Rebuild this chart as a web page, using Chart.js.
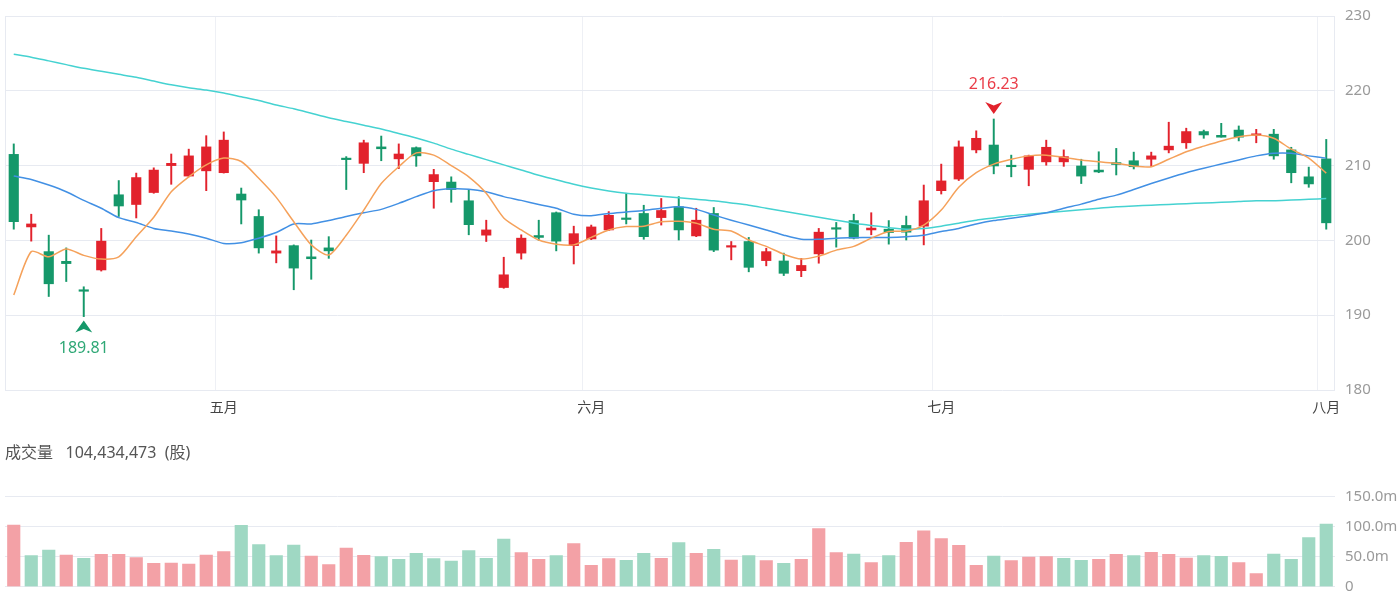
<!DOCTYPE html>
<html>
<head>
<meta charset="utf-8">
<script src="https://cdn.jsdelivr.net/npm/chart.js@4.4.1/dist/chart.umd.min.js"></script>
<style>
html,body{margin:0;padding:0;background:#fff;}
#wrap{position:relative;width:1400px;height:600px;overflow:hidden;background:#fff;}
#c1{position:absolute;left:0;top:0;}
#c2{position:absolute;left:0;top:430px;}
</style>
</head>
<body>
<div id="wrap">
<canvas id="c1" width="1400" height="430"></canvas>
<canvas id="c2" width="1400" height="170"></canvas>
</div>
<script>
// ---- data ----
const monthTicks = {12: '五月', 33: '六月', 53: '七月', 75: '八月'};
const openP = [211.5,201.8,198.5,197.2,193.4,196.05,206.1,204.8,206.4,210.0,208.6,209.3,209.05,206.2,203.2,198.3,199.3,197.8,199.0,211.0,210.3,212.5,210.9,212.4,207.85,207.8,205.3,200.7,193.7,198.3,200.65,203.7,199.3,200.2,201.4,203.0,203.6,203.05,204.5,200.6,203.6,199.1,199.85,197.3,197.25,195.95,198.2,201.7,202.65,201.4,201.5,202.0,201.9,206.65,208.2,212.1,212.75,210.05,209.5,210.5,210.5,209.95,209.4,210.4,210.65,210.85,212.1,213.05,214.55,214.05,214.75,214.05,214.2,212.1,208.5,210.9];
const highP = [212.9,203.5,200.7,199.0,193.8,201.6,208.0,209.0,209.7,211.55,212.2,214.0,214.5,207.0,204.1,200.6,199.4,200.05,200.5,211.2,213.4,213.95,212.9,212.5,209.5,208.5,206.8,202.7,197.75,200.75,202.7,203.8,201.9,202.05,203.85,206.3,204.7,205.6,205.85,204.3,204.4,199.85,200.4,198.95,198.3,197.6,201.6,202.4,203.5,203.7,202.65,203.25,207.4,210.2,213.3,214.65,216.23,211.4,211.4,213.4,212.1,210.85,211.85,212.3,211.8,211.8,215.8,215.0,214.75,215.65,215.3,214.85,214.85,212.45,209.8,213.5];
const lowP = [201.5,199.9,192.5,194.5,189.81,195.9,203.2,203.0,206.3,207.5,208.5,206.65,209.0,202.2,198.3,197.0,193.4,194.8,197.6,206.8,209.05,210.65,209.6,209.9,204.3,205.1,200.75,199.85,193.6,197.5,200.0,198.6,196.85,200.1,201.3,202.2,200.15,202.05,200.05,200.5,198.5,197.4,195.8,196.6,195.3,195.15,196.95,199.1,200.2,200.75,199.5,200.05,199.4,206.2,208.0,211.7,208.9,208.5,207.3,210.05,209.9,207.6,209.05,208.75,209.55,209.85,211.7,212.3,213.65,213.8,213.3,213.05,210.85,207.7,207.1,201.5];
const closeP = [202.5,202.2,194.2,196.9,193.2,199.9,204.6,208.4,209.4,210.3,211.3,212.5,213.4,205.4,199.0,198.6,196.3,197.55,198.6,210.8,213.05,212.25,211.55,211.3,208.8,206.8,202.1,201.4,195.4,200.3,200.4,199.9,200.9,201.8,203.35,202.8,200.5,204.0,201.4,202.7,198.7,199.3,196.4,198.5,195.6,196.65,201.1,201.5,200.3,201.65,201.05,201.1,205.3,207.95,212.5,213.65,209.95,209.85,211.3,212.45,211.2,208.6,209.15,210.15,209.85,211.3,212.6,214.55,214.1,213.8,213.8,214.2,211.3,209.05,207.55,202.35];
const ma5 = [192.7,198.5,197.8,198.85,198.0,197.5,197.8,200.5,203.1,206.5,208.5,210.1,211.0,210.55,208.3,205.75,202.5,199.4,198.05,200.7,204.05,207.6,209.85,211.7,211.4,210.0,208.5,206.3,203.0,201.4,200.05,199.5,199.4,200.4,201.4,201.85,201.9,202.5,202.55,202.3,201.5,201.25,200.05,199.2,198.15,197.5,197.9,198.7,199.2,200.3,201.2,201.25,202.05,204.05,207.1,209.05,210.2,210.85,211.3,211.4,211.1,210.75,210.5,210.3,209.95,209.85,210.85,211.85,212.6,213.3,213.85,214.1,213.65,212.2,211.0,209.0];
const ma20 = [208.6,208.15,207.4,206.5,205.35,204.3,203.05,202.4,201.6,201.25,200.85,200.3,199.6,199.7,200.3,201.05,202.2,202.2,202.65,203.2,203.7,204.15,204.95,205.85,206.65,206.9,206.85,206.5,205.85,205.35,204.8,204.3,203.5,203.3,203.6,203.8,204.0,204.3,204.5,204.15,203.4,202.7,202.05,201.4,200.7,200.15,200.15,200.3,200.35,200.4,200.4,200.5,200.7,201.2,201.6,202.2,202.65,202.95,203.3,203.7,204.3,204.85,205.5,206.05,206.8,207.6,208.35,209.05,209.65,210.2,210.75,211.3,211.65,211.65,211.3,211.0];
const ma60 = [224.9,224.5,224.0,223.5,223.0,222.6,222.2,221.8,221.3,220.8,220.4,220.1,219.7,219.2,218.7,218.1,217.6,217.0,216.4,215.9,215.4,214.9,214.3,213.7,213.0,212.2,211.5,210.8,210.1,209.4,208.7,208.1,207.5,207.0,206.6,206.3,206.1,205.9,205.7,205.5,205.3,205.0,204.7,204.3,203.9,203.5,203.1,202.7,202.3,202.0,201.7,201.5,201.6,201.9,202.3,202.7,203.0,203.3,203.5,203.7,203.9,204.1,204.3,204.5,204.6,204.7,204.8,204.9,205.0,205.1,205.2,205.3,205.3,205.4,205.5,205.6];
const volumeM = [102.8,51.7,61.2,52.8,47.2,54,54,48.4,39,39.4,37.8,52.8,58.4,102.3,70,51.7,69.5,51.2,36.7,64.5,52.2,50,45.6,55.6,46.7,42.8,60,47.2,79.5,56.7,45.6,51.7,71.7,35.6,46.7,43.9,55.6,47.2,73.4,55.6,62.3,44.5,51.7,43.4,39,45.6,97,56.7,54.5,40,51.7,73.9,93,80,69,35.6,51.2,43.4,49.5,50,47.2,43.9,45.6,54,51.7,57.2,54,47.8,51.7,50.6,40,21.7,54.5,45.6,81.7,104.4];
const volumeUp = [1,0,0,1,0,1,1,1,1,1,1,1,1,0,0,0,0,1,1,1,1,0,0,0,0,0,0,0,0,1,1,0,1,1,1,0,0,1,0,1,0,1,0,1,0,1,1,1,0,1,0,1,1,1,1,1,0,1,1,1,0,0,1,1,0,1,1,1,0,0,1,1,0,0,0,0];
const priceTicks = {min: 180, max: 230, step: 10};
const volTicks = {min: 0, max: 150, step: 50};
const volumeTitle = '成交量   104,434,473  (股)';

// ---- styling ----
const FONT = '"Noto Sans", "Noto Sans CJK SC", sans-serif';
const RED = '#e2222c', GREEN = '#15986a';
const RED_L = '#f3a1a6', GREEN_L = '#9fd8c3';
const GRID = '#e7eaf1';
Chart.defaults.font.family = FONT;

const labels = openP.map((_, i) => monthTicks[i] || '');
const up = openP.map((o, i) => closeP[i] >= o);
const bodyColors = up.map(u => u ? RED : GREEN);

const framePlugin = {
  id: 'frame',
  beforeDatasetsDraw(chart) {
    const {ctx, chartArea: a} = chart;
    ctx.save();
    ctx.strokeStyle = GRID;
    ctx.lineWidth = 1;
    ctx.beginPath();
    ctx.moveTo(Math.round(a.left) + 0.5, a.top);
    ctx.lineTo(Math.round(a.left) + 0.5, a.bottom);
    ctx.moveTo(Math.round(a.right) - 0.5, a.top);
    ctx.lineTo(Math.round(a.right) - 0.5, a.bottom);
    ctx.stroke();
    ctx.restore();
  }
};

const markPlugin = {
  id: 'marks',
  afterDatasetsDraw(chart) {
    const {ctx, scales: {x, y}} = chart;
    let lo = 0, hi = 0;
    lowP.forEach((v, i) => { if (v < lowP[lo]) lo = i; });
    highP.forEach((v, i) => { if (v > highP[hi]) hi = i; });
    ctx.save();
    ctx.font = '16px ' + FONT;
    ctx.textAlign = 'center';
    ctx.textBaseline = 'middle';
    let px = x.getPixelForValue(lo), py = y.getPixelForValue(lowP[lo]);
    let t = py + 4;
    ctx.fillStyle = GREEN;
    ctx.beginPath();
    ctx.moveTo(px, t); ctx.lineTo(px + 8.5, t + 12); ctx.lineTo(px, t + 8.5); ctx.lineTo(px - 8.5, t + 12); ctx.closePath();
    ctx.fill();
    ctx.fillStyle = '#2fa876';
    ctx.fillText(lowP[lo].toFixed(2), px, py + 32);
    px = x.getPixelForValue(hi); py = y.getPixelForValue(highP[hi]);
    let b = py - 5;
    ctx.fillStyle = RED;
    ctx.beginPath();
    ctx.moveTo(px, b); ctx.lineTo(px + 8.5, b - 12); ctx.lineTo(px, b - 8.5); ctx.lineTo(px - 8.5, b - 12); ctx.closePath();
    ctx.fill();
    ctx.fillStyle = '#ea3d48';
    ctx.fillText(highP[hi].toFixed(2), px, py - 35);
    ctx.restore();
  }
};

const yGrid = {drawTicks: true, tickLength: 10, tickColor: 'rgba(0,0,0,0)', color: GRID};

new Chart(document.getElementById('c1'), {
  type: 'bar',
  data: {
    labels,
    datasets: [
      {type: 'line', data: ma5, borderColor: '#f5a15a', borderWidth: 1.5, pointRadius: 0, tension: 0.25, order: 0},
      {type: 'line', data: ma20, borderColor: '#4290e4', borderWidth: 1.5, pointRadius: 0, tension: 0.25, order: 0},
      {type: 'line', data: ma60, borderColor: '#45d2d1', borderWidth: 1.5, pointRadius: 0, tension: 0.25, order: 0},
      {data: openP.map((o, i) => [o, closeP[i]]), backgroundColor: bodyColors, barThickness: 9.5, minBarLength: 1.5, grouped: false, borderWidth: 0, order: 1},
      {data: lowP.map((l, i) => [l, highP[i]]), backgroundColor: bodyColors, barThickness: 1.3, grouped: false, borderWidth: 0, order: 2}
    ]
  },
  options: {
    responsive: false,
    animation: false,
    layout: {padding: {left: 5, top: 16, right: 0, bottom: 0}},
    plugins: {legend: {display: false}, tooltip: {enabled: false}},
    scales: {
      x: {
        offset: true,
        grid: {offset: true, drawTicks: false, color: c => (c.tick && c.tick.label) ? '#eef0f5' : 'rgba(0,0,0,0)'},
        border: {display: false},
        ticks: {autoSkip: false, maxRotation: 0, padding: 10, color: '#444', font: {size: 14}},
        afterFit: s => { s.height = 40; }
      },
      y: {
        position: 'right',
        min: priceTicks.min, max: priceTicks.max,
        grid: yGrid,
        border: {display: false},
        ticks: {stepSize: priceTicks.step, padding: 0, color: '#9a9a9a', font: {size: 15}},
        afterFit: s => { s.width = 65; }
      }
    }
  },
  plugins: [framePlugin, markPlugin]
});

new Chart(document.getElementById('c2'), {
  type: 'bar',
  data: {
    labels,
    datasets: [{
      data: volumeM,
      backgroundColor: volumeUp.map(u => u ? RED_L : GREEN_L),
      barThickness: 12.5,
      borderWidth: 0
    }]
  },
  options: {
    responsive: false,
    animation: false,
    layout: {padding: {left: 5, top: 0, right: 0, bottom: 13.3}},
    plugins: {
      legend: {display: false}, tooltip: {enabled: false},
      title: {display: true, text: volumeTitle, align: 'start', color: '#555', font: {size: 16, weight: 'normal'}, padding: {top: 13.4, bottom: 34.1}}
    },
    scales: {
      x: {display: false, offset: true},
      y: {
        position: 'right',
        min: volTicks.min, max: volTicks.max,
        grid: yGrid,
        border: {display: false},
        ticks: {stepSize: volTicks.step, padding: 0, color: '#9a9a9a', font: {size: 15},
          callback: v => v === 0 ? '0' : v.toFixed(1) + 'm'},
        afterFit: s => { s.width = 65; }
      }
    }
  }
});
</script>
</body>
</html>
